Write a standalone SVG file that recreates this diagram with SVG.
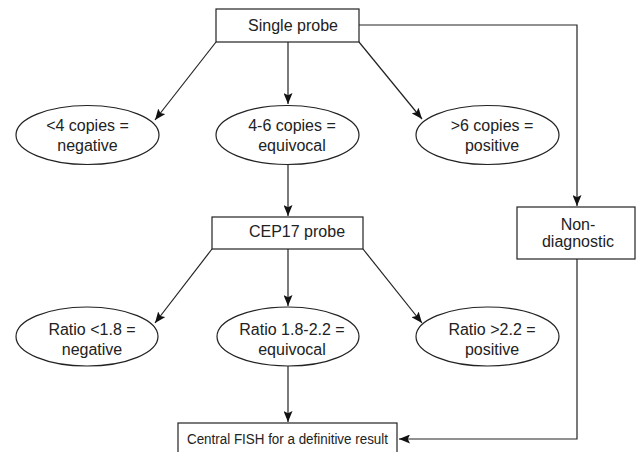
<svg xmlns="http://www.w3.org/2000/svg" width="637" height="452" viewBox="0 0 637 452">
<defs>
<style>
.box{fill:#fff;stroke:#222;stroke-width:1.2}
.ell{fill:#fff;stroke:#222;stroke-width:1.2}
.t{font-family:"Liberation Sans",Arial,sans-serif;font-size:16px;fill:#222;text-anchor:middle}
.ts{font-family:"Liberation Sans",Arial,sans-serif;font-size:14px;fill:#222;text-anchor:middle}
.c{fill:none;stroke:#222;stroke-width:1.2}
</style>
<marker id="ah" viewBox="0 0 11 9" refX="11" refY="4.5" markerWidth="11" markerHeight="9" markerUnits="userSpaceOnUse" orient="auto">
<path d="M0,0 L11,4.5 L0,9 L2.2,4.5 z" fill="#111"/>
</marker>
</defs>
<g id="connectors">
<line class="c" x1="216" y1="42" x2="155" y2="120" marker-end="url(#ah)"/>
<line class="c" x1="288" y1="42" x2="288" y2="104" marker-end="url(#ah)"/>
<line class="c" x1="359" y1="42" x2="422" y2="119" marker-end="url(#ah)"/>
<polyline class="c" points="359,25 577,25 577,206" marker-end="url(#ah)"/>
<line class="c" x1="288" y1="164" x2="288" y2="216" marker-end="url(#ah)"/>
<line class="c" x1="212" y1="249" x2="155" y2="323" marker-end="url(#ah)"/>
<line class="c" x1="288" y1="249" x2="288" y2="306" marker-end="url(#ah)"/>
<line class="c" x1="363" y1="249" x2="422" y2="323" marker-end="url(#ah)"/>
<line class="c" x1="288" y1="366" x2="288" y2="422" marker-end="url(#ah)"/>
<polyline class="c" points="577,259 577,439 399,439" marker-end="url(#ah)"/>
</g>
<g id="single-probe">
<rect class="box" x="216" y="9" width="143" height="33"/>
<text class="t" x="293" y="31">Single probe</text>
</g>
<g id="lt4">
<ellipse class="ell" cx="87.5" cy="135" rx="71.5" ry="29.5"/>
<text class="t" x="87.5" y="131">&lt;4 copies =</text>
<text class="t" x="87.5" y="151">negative</text>
</g>
<g id="c46">
<ellipse class="ell" cx="287.5" cy="135" rx="71.5" ry="29.5"/>
<text class="t" x="292" y="131">4-6 copies =</text>
<text class="t" x="292" y="151">equivocal</text>
</g>
<g id="gt6">
<ellipse class="ell" cx="487.5" cy="135" rx="71.5" ry="29.5"/>
<text class="t" x="492" y="131">&gt;6 copies =</text>
<text class="t" x="492" y="151">positive</text>
</g>
<g id="cep17">
<rect class="box" x="212" y="217" width="151" height="32"/>
<text class="t" x="297" y="237">CEP17 probe</text>
</g>
<g id="nondiag">
<rect class="box" x="517" y="207" width="118" height="52"/>
<text class="t" x="578" y="230">Non-</text>
<text class="t" x="578" y="247">diagnostic</text>
</g>
<g id="r-lt18">
<ellipse class="ell" cx="87" cy="336.5" rx="71" ry="29.5"/>
<text class="t" x="92" y="335">Ratio &lt;1.8 =</text>
<text class="t" x="92" y="355">negative</text>
</g>
<g id="r-mid">
<ellipse class="ell" cx="288" cy="336.5" rx="71" ry="29.5"/>
<text class="t" x="292" y="335">Ratio 1.8-2.2 =</text>
<text class="t" x="292" y="355">equivocal</text>
</g>
<g id="r-gt22">
<ellipse class="ell" cx="487.5" cy="336.5" rx="71.5" ry="29.5"/>
<text class="t" x="492" y="335">Ratio &gt;2.2 =</text>
<text class="t" x="492" y="355">positive</text>
</g>
<g id="central">
<rect class="box" x="178" y="423" width="219" height="32"/>
<text class="ts" x="287.5" y="444" textLength="201" lengthAdjust="spacingAndGlyphs">Central FISH for a definitive result</text>
</g>
</svg>
